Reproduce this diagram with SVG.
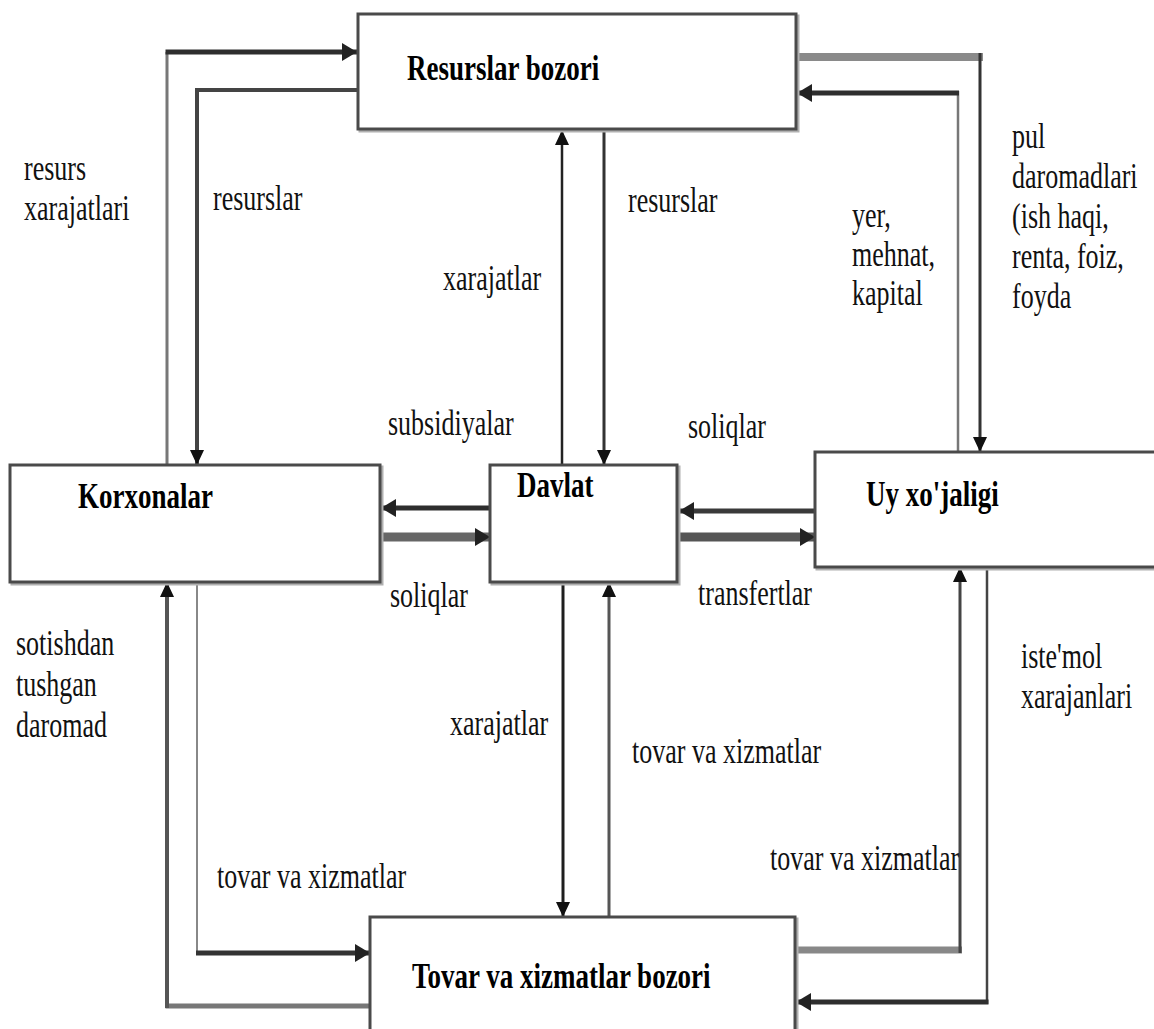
<svg xmlns="http://www.w3.org/2000/svg" width="1154" height="1029" viewBox="0 0 1154 1029">
<style>
.box{fill:#fff;stroke:#4a4a4a;stroke-width:3}
.shadow{fill:none;stroke:#b0b0b0;stroke-width:3}
.lbl{font-family:"Liberation Serif","Times New Roman",serif;font-size:26px;fill:#111}
.ttl{font-family:"Liberation Serif","Times New Roman",serif;font-size:27px;font-weight:bold;fill:#000}
.c{fill:none;stroke-linecap:butt;stroke-linejoin:miter}
</style>
<defs>
<marker id="ar" markerUnits="userSpaceOnUse" markerWidth="16" markerHeight="14" refX="15" refY="7" orient="auto">
<path d="M0,0 L15,7 L0,14 z" fill="#111"/>
</marker>
<marker id="arb" markerUnits="userSpaceOnUse" markerWidth="16" markerHeight="18" refX="15" refY="9" orient="auto">
<path d="M0,0 L15,9 L0,18 z" fill="#222"/>
</marker>
</defs>

<g id="connectors">
<!-- resurs xarajatlari -->
<path class="c" d="M167,465 V52" stroke="#777" stroke-width="3"/>
<path class="c" d="M165.5,52 H357" stroke="#2e2e2e" stroke-width="5" marker-end="url(#arb)"/>
<!-- resurslar to Korxonalar -->
<path class="c" d="M358,90 H197 V465" stroke="#444" stroke-width="4" marker-end="url(#ar)"/>
<!-- xarajatlar up -->
<path class="c" d="M562,465 V130" stroke="#222" stroke-width="2.5" marker-end="url(#ar)"/>
<!-- resurslar down -->
<path class="c" d="M604,130 V465" stroke="#333" stroke-width="3" marker-end="url(#ar)"/>
<!-- yer mehnat kapital -->
<path class="c" d="M958,452 V91" stroke="#777" stroke-width="2.5"/>
<path class="c" d="M959,93 H797" stroke="#2e2e2e" stroke-width="5" marker-end="url(#arb)"/>
<!-- pul daromadlari -->
<path class="c" d="M797,57 H983" stroke="#8a8a8a" stroke-width="8"/>
<path class="c" d="M980,53 V452" stroke="#333" stroke-width="3" marker-end="url(#ar)"/>
<!-- subsidiyalar -->
<path class="c" d="M490,508 H381" stroke="#2e2e2e" stroke-width="5" marker-end="url(#arb)"/>
<!-- soliqlar Korxonalar->Davlat -->
<path class="c" d="M381,537 H490" stroke="#666" stroke-width="9" marker-end="url(#arb)"/>
<!-- soliqlar Uy->Davlat -->
<path class="c" d="M815,511 H679" stroke="#3a3a3a" stroke-width="5" marker-end="url(#arb)"/>
<!-- transfertlar -->
<path class="c" d="M679,537 H815" stroke="#555" stroke-width="9" marker-end="url(#arb)"/>
<!-- sotishdan tushgan daromad -->
<path class="c" d="M370,1006 H165.5" stroke="#777" stroke-width="5"/>
<path class="c" d="M167,1008 V582" stroke="#555" stroke-width="4" marker-end="url(#ar)"/>
<!-- tovar va xizmatlar (Korxonalar -> bozor) -->
<path class="c" d="M197,582 V955" stroke="#888" stroke-width="2"/>
<path class="c" d="M196,953 H370" stroke="#333" stroke-width="5" marker-end="url(#arb)"/>
<!-- xarajatlar down -->
<path class="c" d="M563,582 V917" stroke="#1e1e1e" stroke-width="3" marker-end="url(#ar)"/>
<!-- tovar va xizmatlar up to Davlat -->
<path class="c" d="M609,917 V582" stroke="#555" stroke-width="3" marker-end="url(#ar)"/>
<!-- tovar va xizmatlar up to Uy -->
<path class="c" d="M796,950 H962" stroke="#888" stroke-width="7"/>
<path class="c" d="M960,953 V567" stroke="#444" stroke-width="3" marker-end="url(#ar)"/>
<!-- iste'mol xarajanlari -->
<path class="c" d="M987,567 V1004" stroke="#444" stroke-width="2.5"/>
<path class="c" d="M988.5,1002 H796" stroke="#2e2e2e" stroke-width="5" marker-end="url(#arb)"/>
</g>

<g id="resurslar-bozori">
<rect class="shadow" x="360" y="16" width="438" height="115"/>
<rect class="box" x="358" y="14" width="438" height="115"/>
<text class="ttl" transform="translate(407,80) scale(1,1.3)">Resurslar bozori</text>
</g>

<g id="korxonalar">
<rect class="shadow" x="12" y="467" width="370" height="117"/>
<rect class="box" x="10" y="465" width="370" height="117"/>
<text class="ttl" transform="translate(78,508) scale(1,1.3)">Korxonalar</text>
</g>

<g id="davlat">
<rect class="shadow" x="492" y="467" width="187" height="117"/>
<rect class="box" x="490" y="465" width="187" height="117"/>
<text class="ttl" transform="translate(517,497) scale(1,1.3)">Davlat</text>
</g>

<g id="uy-xojaligi">
<rect class="shadow" x="817" y="454" width="345" height="115"/>
<rect class="box" x="815" y="452" width="345" height="115"/>
<text class="ttl" transform="translate(866,506) scale(1,1.3)">Uy xo'jaligi</text>
</g>

<g id="tovar-bozori">
<rect class="shadow" x="372" y="919" width="425" height="125"/>
<rect class="box" x="370" y="917" width="425" height="125"/>
<text class="ttl" transform="translate(412,988) scale(1,1.3)">Tovar va xizmatlar bozori</text>
</g>

<g id="labels">
<text class="lbl" transform="translate(24,180) scale(1,1.4)">resurs<tspan x="0" dy="28.6">xarajatlari</tspan></text>
<text class="lbl" transform="translate(213,210) scale(1,1.4)">resurslar</text>
<text class="lbl" transform="translate(628,212) scale(1,1.4)">resurslar</text>
<text class="lbl" transform="translate(443,290) scale(1,1.4)">xarajatlar</text>
<text class="lbl" transform="translate(852,227) scale(1,1.4)">yer,<tspan x="0" dy="27.9">mehnat,</tspan><tspan x="0" dy="27.9">kapital</tspan></text>
<text class="lbl" transform="translate(1012,148) scale(1,1.4)">pul<tspan x="0" dy="28.6">daromadlari</tspan><tspan x="0" dy="28.6">(ish haqi,</tspan><tspan x="0" dy="28.6">renta, foiz,</tspan><tspan x="0" dy="28.6">foyda</tspan></text>
<text class="lbl" transform="translate(388,435) scale(1,1.4)">subsidiyalar</text>
<text class="lbl" transform="translate(688,438) scale(1,1.4)">soliqlar</text>
<text class="lbl" transform="translate(390,607) scale(1,1.4)">soliqlar</text>
<text class="lbl" transform="translate(698,605) scale(1,1.4)">transfertlar</text>
<text class="lbl" transform="translate(16,655) scale(1,1.4)">sotishdan<tspan x="0" dy="29.3">tushgan</tspan><tspan x="0" dy="29.3">daromad</tspan></text>
<text class="lbl" transform="translate(450,735) scale(1,1.4)">xarajatlar</text>
<text class="lbl" transform="translate(632,763) scale(1,1.4)">tovar va xizmatlar</text>
<text class="lbl" transform="translate(1021,668) scale(1,1.4)">iste'mol<tspan x="0" dy="28.6">xarajanlari</tspan></text>
<text class="lbl" transform="translate(770,870) scale(1,1.4)">tovar va xizmatlar</text>
<text class="lbl" transform="translate(217,888) scale(1,1.4)">tovar va xizmatlar</text>
</g>
</svg>
